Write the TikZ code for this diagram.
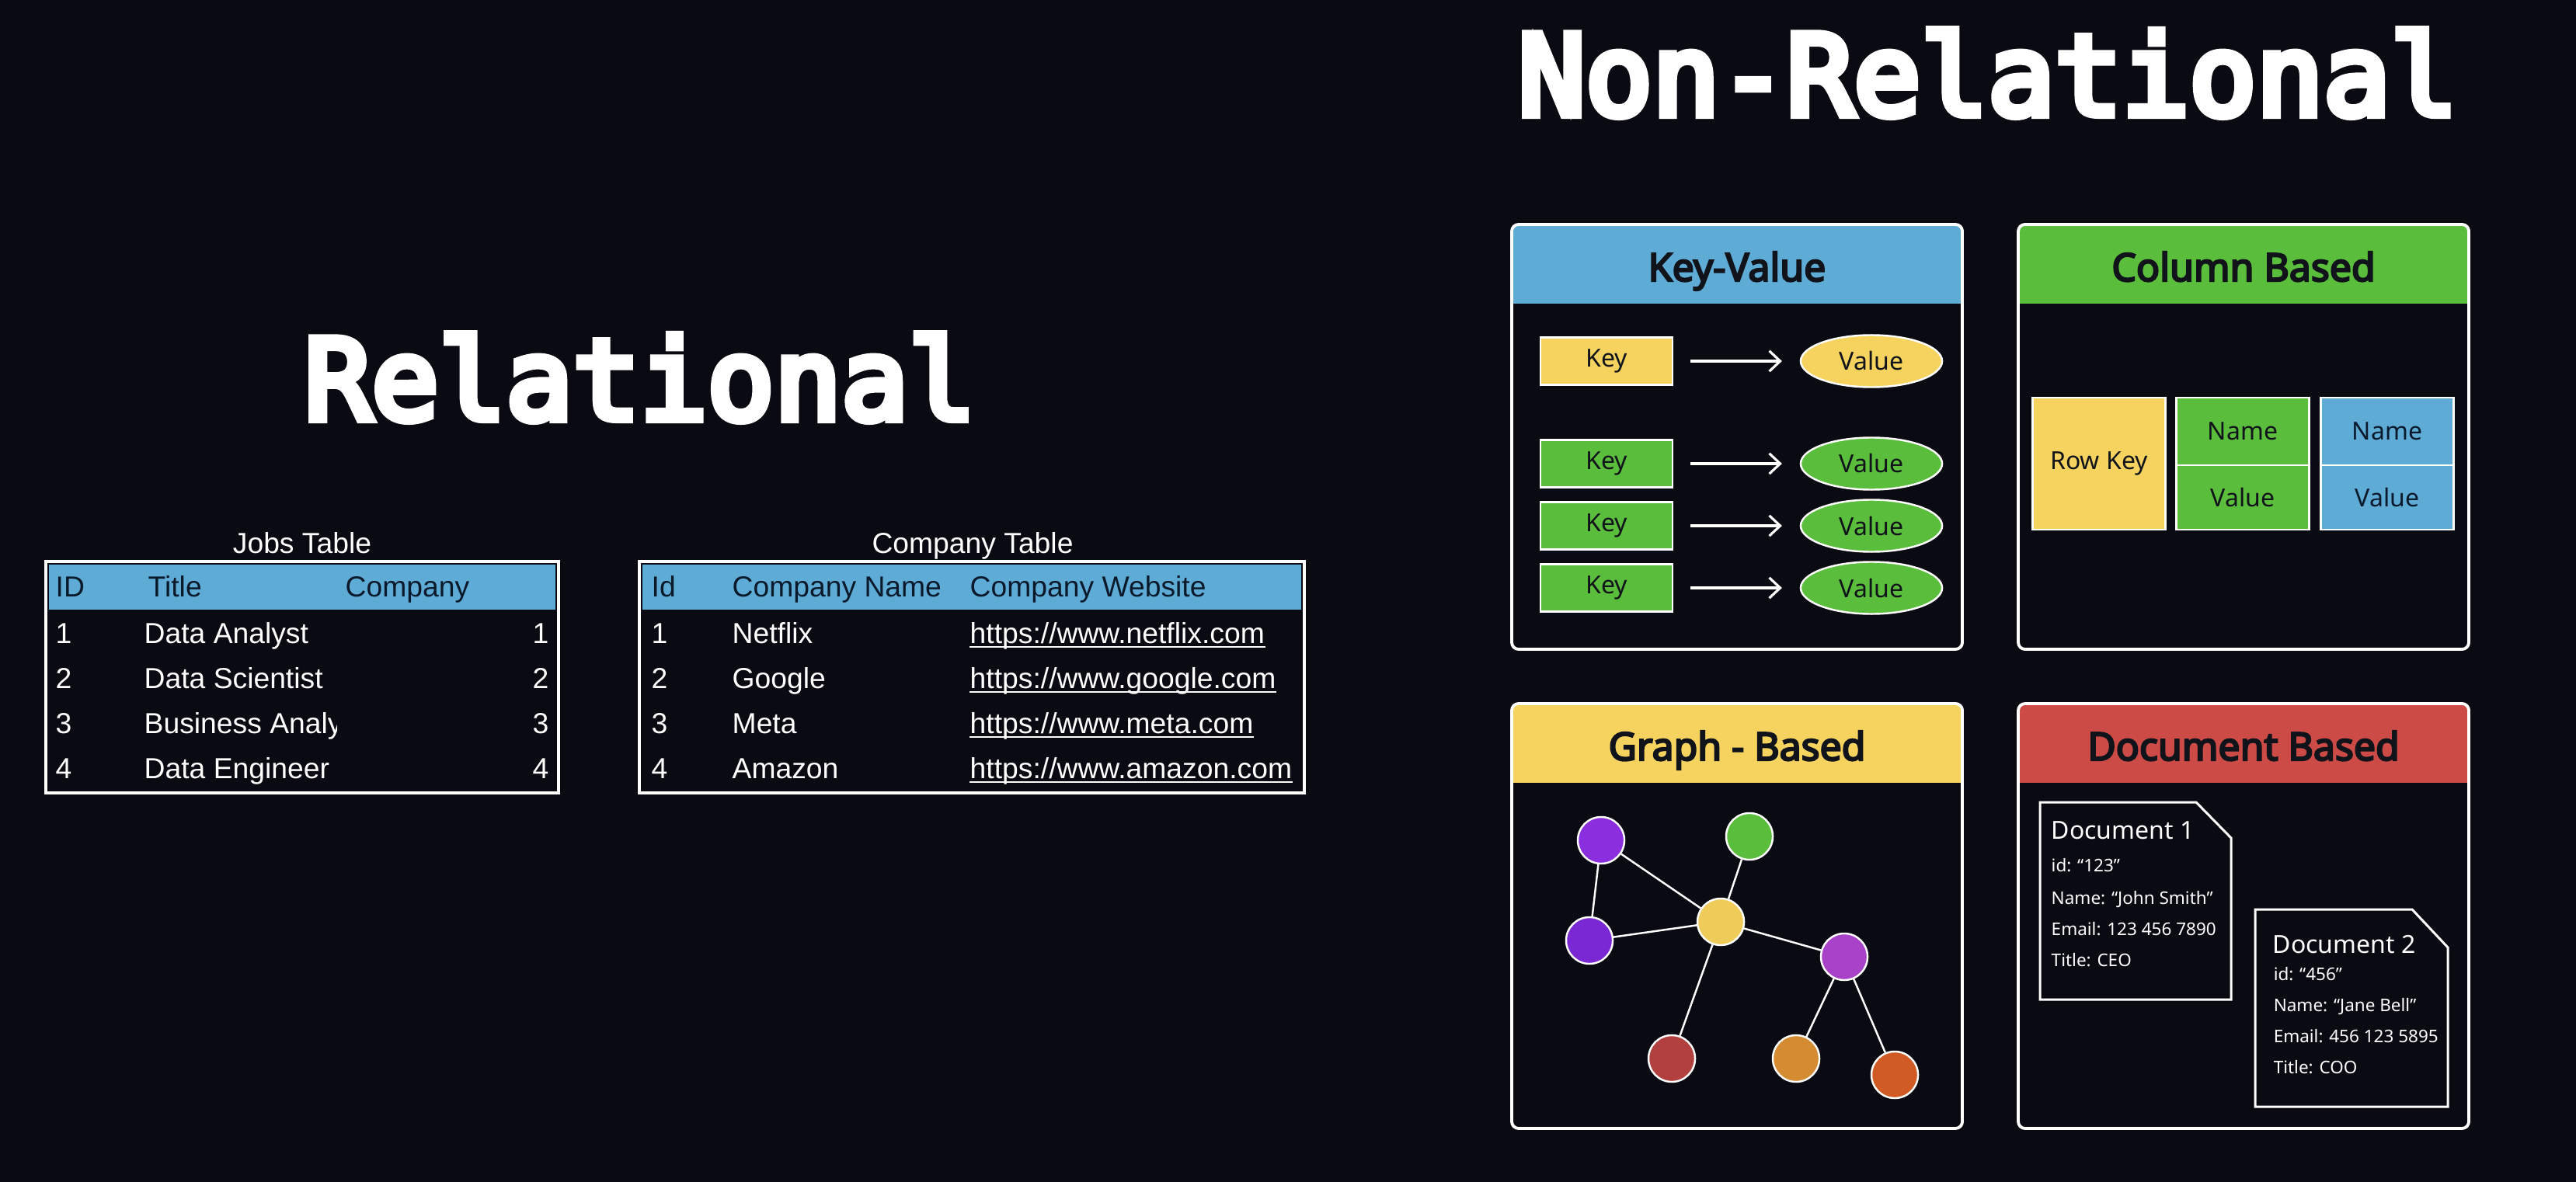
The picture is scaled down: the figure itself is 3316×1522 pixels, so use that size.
\documentclass[tikz,border=0pt]{standalone}
\usepackage{fontspec}
\setmainfont{Noto Sans}
\newfontfamily\panelfont{Noto Sans}[FakeBold=4.5]
\newfontfamily\tablefont{Liberation Sans}
\newfontfamily\monofont{DejaVu Sans Mono}[FakeBold=7]
\usepackage{tikz}
\usetikzlibrary{positioning,arrows.meta,shapes.geometric}
\definecolor{bg}{HTML}{0A0A12}
\definecolor{tblblue}{HTML}{5EABD6}
\definecolor{cbgreen}{HTML}{5ABD3B}
\definecolor{gbyellow}{HTML}{F6D35F}
\definecolor{dbred}{HTML}{CC4B46}
\definecolor{headtext}{HTML}{0B1A2B}
\definecolor{titletext}{HTML}{10131A}
\definecolor{gpurple}{HTML}{8A2EDE}
\definecolor{gviolet}{HTML}{7A28D4}
\definecolor{gmagenta}{HTML}{A843C9}
\definecolor{ggreen}{HTML}{5ABD3B}
\definecolor{gyellow}{HTML}{EFCB5A}
\definecolor{gred}{HTML}{B2403E}
\definecolor{gorange}{HTML}{D48B32}
\definecolor{gdorange}{HTML}{D05B25}

\begin{document}
\begin{tikzpicture}[x=0.01cm,y=-0.01cm,
    bigtitle/.style={text=white,font=\monofont\fontsize{40.8}{48}\selectfont,inner sep=0,anchor=base},
    tabletext/.style={text=white,font=\tablefont\fontsize{10.6}{12}\selectfont,inner sep=0,anchor=base west},
    tablehead/.style={tabletext,text=headtext},
    paneltitle/.style={text=titletext,font=\panelfont\fontsize{14.2}{16}\selectfont,inner sep=0,anchor=base},
    keybox/.style={draw=white,line width=0.7pt,minimum width=1.7cm,minimum height=0.61cm,inner sep=0,font=\fontsize{9.1}{11}\selectfont,text=titletext},
    valnode/.style={keybox,ellipse,minimum width=1.82cm,minimum height=0.67cm},
    kvarrow/.style={white,line width=0.9pt,-{Straight Barb[length=4pt,width=7.5pt]},shorten <=6.3pt,shorten >=6.5pt},
    cellbox/.style={keybox,outer sep=0,minimum width=1.71cm},
    gnode/.style={circle,draw=white,line width=0.7pt,minimum size=0.6cm,inner sep=0},
    gedge/.style={white,line width=0.7pt},
    urlline/.style={white,line width=0.55pt},
    doctext/.style={text=white,inner sep=0,anchor=base west,font=\fontsize{6.4}{8}\selectfont},
    dochead/.style={doctext,font=\fontsize{9.1}{11}\selectfont},
    docshape/.style={draw=white,line width=0.85pt}]
  \fill[bg] (0,0) rectangle (3316,1522);
  \useasboundingbox (0,0) rectangle (3316,1522);
  \node[bigtitle] (reltitle) at (824,540) {Relational};
  \node[bigtitle] (nonreltitle) at (2559,148) {Non-Relational};
  % relational tables
  \node[tabletext,anchor=base] (jobstitle) at (389,712) {Jobs Table};
  \fill[tblblue] (63,727) rectangle (715,785);
  \draw[white,line width=0.9pt] (59,723) rectangle (719,1021);
  \node[tablehead] (jid) at (71,768) {ID};
  \node[tablehead] (jtitle) at (190,768) {Title};
  \node[tablehead] (jcomp) at (444,768) {Company};
  \foreach \r/\ttl/\yy in {1/Data Analyst/828,2/Data Scientist/886,3/Business Analyst/944,4/Data Engineer/1002}
  {\node[tabletext] (jid\r) at (71,\yy) {\r};
   \begin{scope}\clip (180,790) rectangle (433,1015);\node[tabletext] (jt\r) at (185,\yy) {\ttl};\end{scope}
   \node[tabletext,anchor=base east] (jc\r) at (707,\yy) {\r};}
  \node[tabletext,anchor=base] (comptitle) at (1252,712) {Company Table};
  \fill[tblblue] (827,727) rectangle (1675,785);
  \draw[white,line width=0.9pt] (823,723) rectangle (1679,1021);
  \node[tablehead] (cid) at (838,768) {Id};
  \node[tablehead] (cname) at (942,768) {Company Name};
  \node[tablehead] (cweb) at (1248,768) {Company Website};
  \foreach \r/\cn/\site/\yy in {1/Netflix/netflix/828,2/Google/google/886,3/Meta/meta/944,4/Amazon/amazon/1002}
  {\node[tabletext] (cid\r) at (838,\yy) {\r};\node[tabletext] (cn\r) at (942,\yy) {\cn};
   \node[tabletext] (cw\r) at (1248,\yy) {https://www.\site.com};
   \draw[urlline] ([yshift=-1.5pt]cw\r.base west) -- ([yshift=-1.5pt]cw\r.base east);}
  % non-relational panels
  \foreach \n/\px/\py/\hc/\ttl in {1/1946/289/tblblue/Key-Value,2/2598/289/cbgreen/Column Based,3/1946/906/gbyellow/Graph - Based,4/2598/906/dbred/Document Based}
  {\begin{scope}\clip[rounded corners=2.5pt] (\px,\py) rectangle ++(580,547);\fill[\hc] (\px,\py) rectangle ++(580,102);\end{scope}
   \draw[white,line width=1.1pt,rounded corners=2.5pt] (\px,\py) rectangle ++(580,547);
   \node[paneltitle] (ptitle\n) at (\px+290,\py+73) {\ttl};}
  \foreach \i/\yy/\c in {1/465/gbyellow,2/597/cbgreen,3/677/cbgreen,4/757/cbgreen}
  {\node[keybox,fill=\c] (key\i) at (2068,\yy) {Key};\node[valnode,fill=\c] (val\i) at (2409,\yy) {Value};
   \draw[kvarrow] (key\i) -- (val\i);}
  \node[cellbox,fill=gbyellow,minimum height=1.7cm] (rowkey) at (2702,597) {Row Key};
  \node[cellbox,fill=cbgreen,minimum height=0.87cm] (name1) at (2887,555.5) {Name};
  \node[cellbox,fill=cbgreen,minimum height=0.83cm,below=0pt of name1] (value1) {Value};
  \node[cellbox,fill=tblblue,minimum height=0.87cm,text=headtext] (name2) at (3073,555.5) {Name};
  \node[cellbox,fill=tblblue,minimum height=0.83cm,text=headtext,below=0pt of name2] (value2) {Value};
  \node[gnode,fill=gpurple] (p1) at (2061,1082) {};
  \node[gnode,fill=ggreen] (gr) at (2252,1077) {};
  \node[gnode,fill=gyellow] (hub) at (2215,1187) {};
  \node[gnode,fill=gviolet] (p2) at (2046,1211) {};
  \node[gnode,fill=gmagenta] (mg) at (2374,1232) {};
  \node[gnode,fill=gred] (rd) at (2152,1363) {};
  \node[gnode,fill=gorange] (or1) at (2312,1363) {};
  \node[gnode,fill=gdorange] (or2) at (2439,1384) {};
  \foreach \a/\b in {p1/p2,p1/hub,gr/hub,p2/hub,hub/mg,hub/rd,mg/or1,mg/or2} \draw[gedge] (\a) -- (\b);
  \draw[docshape] (2626,1033) -- (2827,1033) -- (2872,1079) -- (2872,1287) -- (2626,1287) -- cycle;
  \node[dochead] (doc1) at (2640,1080) {Document 1};
  \node[doctext] (d1id) at (2640,1122) {id: “123”};
  \node[doctext] (d1name) at (2640,1164) {Name: “John Smith”};
  \node[doctext] (d1mail) at (2640,1204) {Email: 123 456 7890};
  \node[doctext] (d1title) at (2640,1244) {Title: CEO};
  \draw[docshape] (2903,1171) -- (3105,1171) -- (3151,1220) -- (3151,1425) -- (2903,1425) -- cycle;
  \node[dochead] (doc2) at (2925,1227) {Document 2};
  \node[doctext] (d2id) at (2926,1262) {id: “456”};
  \node[doctext] (d2name) at (2926,1302) {Name: “Jane Bell”};
  \node[doctext] (d2mail) at (2926,1342) {Email: 456 123 5895};
  \node[doctext] (d2title) at (2926,1382) {Title: COO};
\end{tikzpicture}
\end{document}
